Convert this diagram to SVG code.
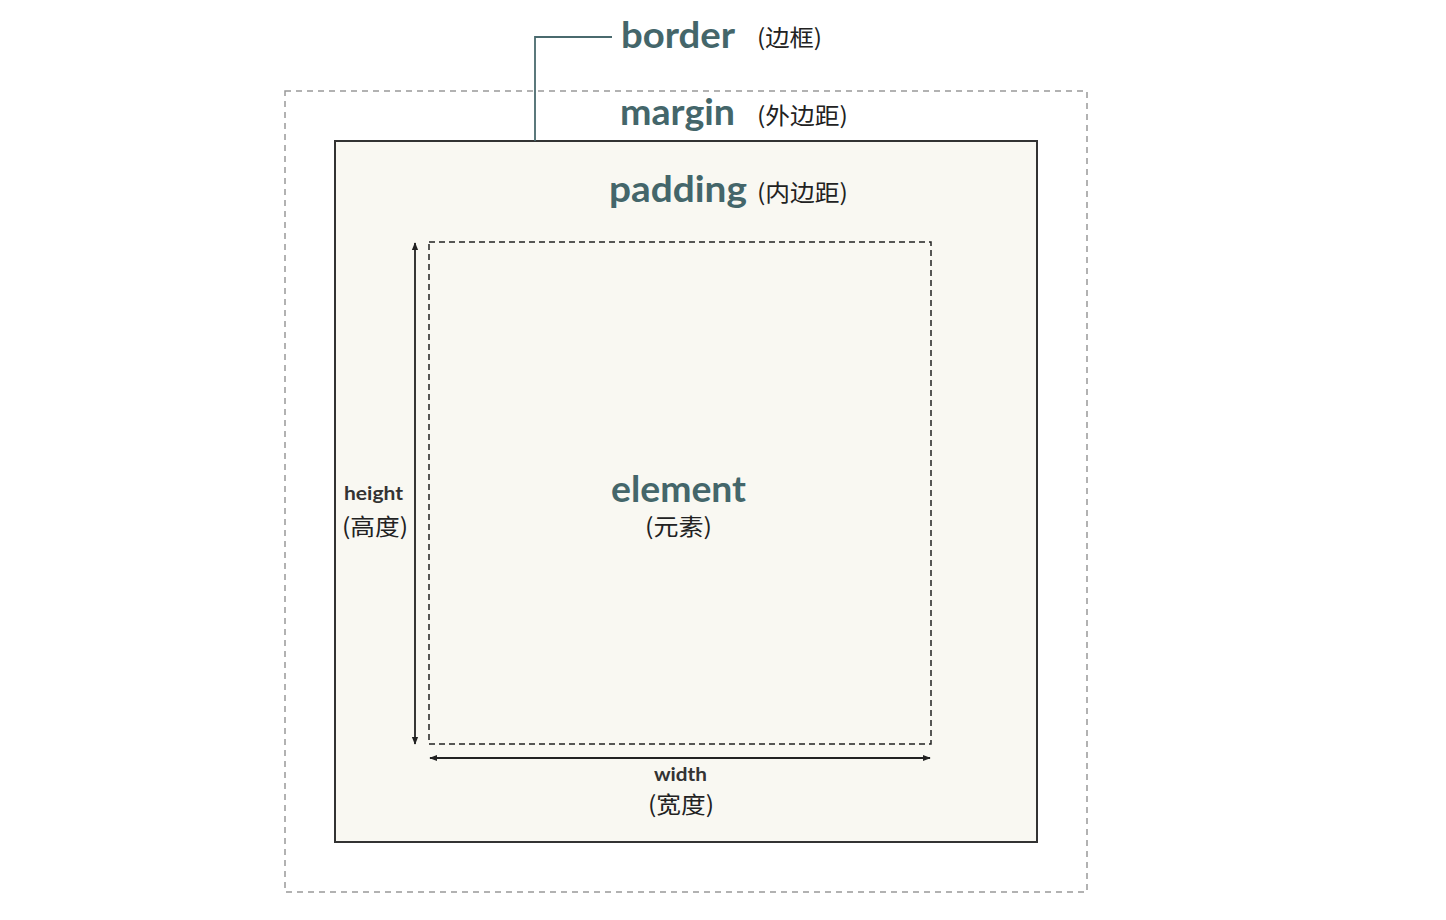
<svg xmlns="http://www.w3.org/2000/svg" width="1446" height="920" viewBox="0 0 1446 920">
<style>
.big{font-family:Lato,"Open Sans","Noto Sans",sans-serif;font-weight:bold;fill:#44666a;font-size:36px}
.cn{font-family:"Noto Sans CJK SC","Noto Sans",sans-serif;fill:#222;font-size:23px}
.sm{font-family:Lato,"Noto Sans",sans-serif;font-weight:bold;fill:#333;font-size:19px}
</style>
<defs>
<marker id="ah" viewBox="0 0 10 10" refX="9" refY="5" markerWidth="8" markerHeight="8" markerUnits="userSpaceOnUse" orient="auto-start-reverse">
<path d="M0,1 L10,5 L0,9 Z" fill="#222"/>
</marker>
</defs>
<rect width="1446" height="920" fill="#fff"/>
<g id="margin">
<rect x="285" y="91" width="802" height="801" fill="none" stroke="#999" stroke-width="1.5" stroke-dasharray="6,5"/>
<text class="big" x="620" y="125" textLength="115" lengthAdjust="spacingAndGlyphs">margin</text>
<text class="cn" x="757" y="124" textLength="91" lengthAdjust="spacingAndGlyphs">(外边距)</text>
</g>
<g id="border">
<rect x="335" y="141" width="702" height="701" fill="#f9f8f2" stroke="#333" stroke-width="2"/>
<text class="big" x="621" y="48" textLength="114" lengthAdjust="spacingAndGlyphs">border</text>
<text class="cn" x="757" y="46" textLength="65" lengthAdjust="spacingAndGlyphs">(边框)</text>
</g>
<g id="padding">
<text class="big" x="609" y="202" textLength="138" lengthAdjust="spacingAndGlyphs">padding</text>
<text class="cn" x="757" y="201" textLength="91" lengthAdjust="spacingAndGlyphs">(内边距)</text>
</g>
<g id="element">
<rect x="429" y="242" width="502" height="502" fill="none" stroke="#222" stroke-width="1.5" stroke-dasharray="6,4"/>
<text class="big" x="611" y="502" textLength="135" lengthAdjust="spacingAndGlyphs">element</text>
<text class="cn" x="645" y="535" textLength="67" lengthAdjust="spacingAndGlyphs">(元素)</text>
</g>
<g id="height">
<text class="sm" x="344" y="500" textLength="59" lengthAdjust="spacingAndGlyphs">height</text>
<text class="cn" x="342" y="535" textLength="66" lengthAdjust="spacingAndGlyphs">(高度)</text>
</g>
<g id="width">
<text class="sm" x="654" y="781" textLength="53" lengthAdjust="spacingAndGlyphs">width</text>
<text class="cn" x="648" y="813" textLength="66" lengthAdjust="spacingAndGlyphs">(宽度)</text>
</g>
<g id="connectors" fill="none">
<path d="M535,141 V37 H612" stroke="#4a6a6e" stroke-width="1.8"/>
<line x1="415" y1="243" x2="415" y2="744" stroke="#222" stroke-width="1.8" marker-start="url(#ah)" marker-end="url(#ah)"/>
<line x1="430" y1="758" x2="930" y2="758" stroke="#222" stroke-width="1.8" marker-start="url(#ah)" marker-end="url(#ah)"/>
</g>
</svg>
